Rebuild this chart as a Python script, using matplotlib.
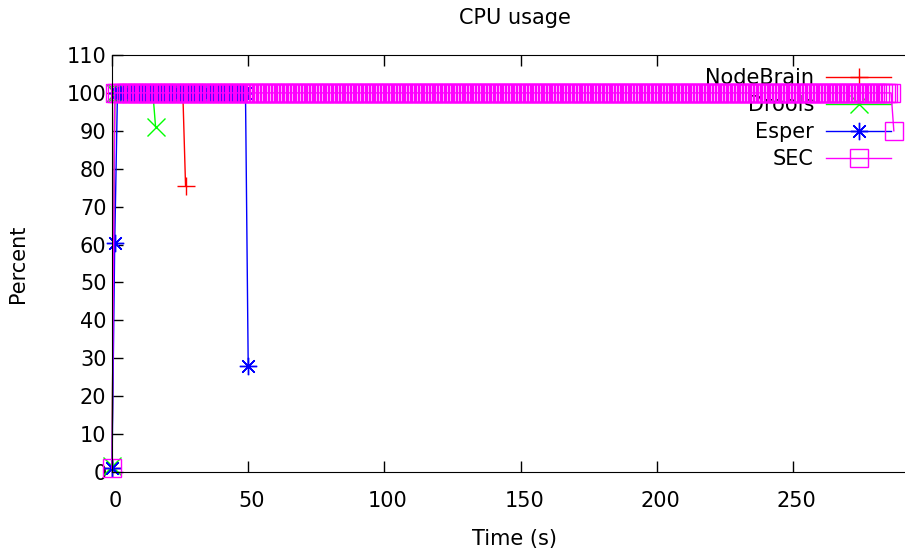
import matplotlib
matplotlib.use("Agg")
import matplotlib.pyplot as plt
from matplotlib.transforms import ScaledTranslation

# CPU usage samples, one per second
nodebrain_t = list(range(0, 28))
nodebrain_cpu = [1.0] + [100.0] * 26 + [75.5]

drools_t = list(range(0, 17))
drools_cpu = [1.5] + [100.0] * 15 + [91.0]

esper_t = list(range(0, 51))
esper_cpu = [1.0, 60.5] + [100.0] * 48 + [28.0]

sec_t = list(range(0, 288))
sec_cpu = [1.0] + [100.0] * 286 + [90.0]

series = ["NodeBrain", "Drools", "Esper", "SEC"]
colors = ["#ff0000", "#00ff00", "#0000ff", "#ff00ff"]
markers = ["+", "x", (8, 2, 0), "s"]

xticks = [0, 50, 100, 150, 200, 250]
yticks = list(range(0, 111, 10))

plt.rcParams["font.family"] = "DejaVu Sans"
fs = 15

fig = plt.figure(figsize=(9.05, 5.52), dpi=100)
ax = fig.add_axes([112 / 905, 1 - 472 / 552, 793 / 905, 417 / 552])

data = [(nodebrain_t, nodebrain_cpu), (drools_t, drools_cpu),
        (esper_t, esper_cpu), (sec_t, sec_cpu)]
for (t, v), name, c, m in zip(data, series, colors, markers):
    mfc = "none" if m == "s" else c
    ax.plot(t, v, color=c, lw=1, marker=m, markersize=12.5, mew=1,
            mfc=mfc, label=name, clip_on=False)

ax.set_xlim(0, 291.1)
ax.set_ylim(0, 110)
ax.set_xticks(xticks)
ax.set_yticks(yticks)

ax.spines["right"].set_visible(False)
ax.tick_params(direction="in", length=8, width=1, labelsize=fs, top=True,
               right=False, labeltop=False)
ax.tick_params(axis="x", pad=14)
ax.tick_params(axis="y", pad=4)
for lab in ax.get_xticklabels():
    lab.set_transform(lab.get_transform() + ScaledTranslation(0.035, 0, fig.dpi_scale_trans))

ax.set_xlabel("Time (s)", fontsize=fs)
ax.xaxis.set_label_coords((514 - 112) / 793, -57 / 417)
ax.set_ylabel("Percent", fontsize=fs)
ax.yaxis.set_label_coords(-84 / 793, 0.5)
fig.text(515 / 905, 1 - 18 / 552, "CPU usage", fontsize=fs,
         ha="center", va="center")

leg = ax.legend(loc="upper right", bbox_to_anchor=(891 / 905, 1 - 68.5 / 552),
                bbox_transform=fig.transFigure, frameon=False, markerfirst=False,
                fontsize=fs, handlelength=3.1, handletextpad=0.6,
                labelspacing=0.33, borderpad=0, borderaxespad=0)
leg.set_zorder(1)

fig.savefig("out.png", dpi=100)
